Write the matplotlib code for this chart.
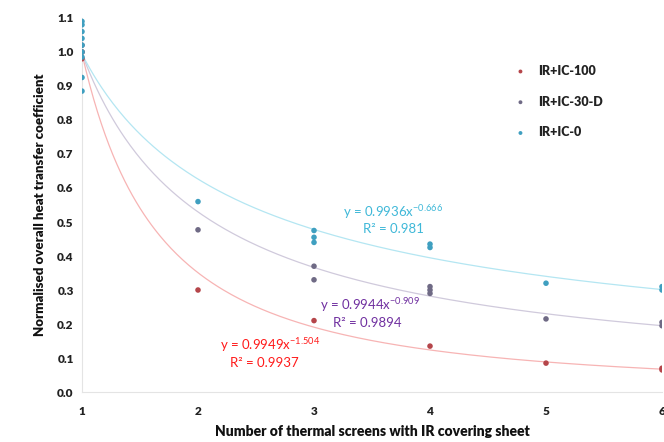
import numpy as np
import matplotlib
matplotlib.use("Agg")
import matplotlib.pyplot as plt

plt.rcParams['font.family'] = ['Lato', 'DejaVu Sans']
plt.rcParams['mathtext.fontset'] = 'custom'
plt.rcParams['mathtext.rm'] = 'Lato'
plt.rcParams['mathtext.default'] = 'regular'

# Data
red_x = [1, 1, 2, 3, 4, 5, 6, 6]
red_y = [1.00, 0.98, 0.30, 0.21, 0.135, 0.085, 0.07, 0.065]
pur_x = [1, 1, 2, 3, 3, 4, 4, 4, 5, 6, 6]
pur_y = [1.00, 1.02, 0.477, 0.37, 0.33, 0.31, 0.30, 0.29, 0.215, 0.205, 0.195]
blu_x = [1, 1, 1, 1, 1, 1, 1, 1, 1, 2, 3, 3, 3, 4, 4, 5, 6, 6]
blu_y = [0.885, 0.925, 0.985, 1.00, 1.02, 1.04, 1.06, 1.08, 1.09, 0.56, 0.475, 0.455, 0.44, 0.435, 0.425, 0.32, 0.31, 0.30]

# power-law fits y = a * x^b (as printed on chart)
red_fit = (0.9949, -1.504, 0.9937)
pur_fit = (0.9944, -0.909, 0.9894)
blu_fit = (0.9936, -0.666, 0.981)

labels = ['IR+IC-100', 'IR+IC-30-D', 'IR+IC-0']
pt_colors = ['#b5454a', '#6f6a85', '#3f9fc0']
line_colors = ['#f7b4b4', '#d0cadc', '#b4e6f2']
eq_colors = ['#ff1a1a', '#7030a0', '#3fb8d8']

fig = plt.figure(figsize=(6.64, 4.42), dpi=100)
ax = fig.add_axes([0.1235, 0.1131, 0.8735, 0.8462])

xs = np.linspace(1, 6, 300)
for (a, b, r2), lc in zip([red_fit, pur_fit, blu_fit], line_colors):
    ax.plot(xs, a * xs ** b, color=lc, lw=0.9, zorder=1)

for xv, yv, c, lab in zip([red_x, pur_x, blu_x], [red_y, pur_y, blu_y], pt_colors, labels):
    ax.scatter(xv, yv, s=16, color=c, label=lab, zorder=3, edgecolors='none')

ax.set_xlim(1, 6)
ax.set_ylim(0, 1.1)
ax.set_xticks([1, 2, 3, 4, 5, 6])
ax.set_yticks(np.round(np.arange(0, 1.11, 0.1), 1))
ax.set_yticklabels([f"{v:.1f}" for v in np.arange(0, 1.11, 0.1)])
for t in ax.get_xticklabels() + ax.get_yticklabels():
    t.set_fontweight('heavy')
    t.set_fontsize(8.5)
    t.set_color('#222222')
ax.tick_params(axis='x', length=0, pad=10)
ax.tick_params(axis='y', length=0, pad=6)
for s in ['top', 'right']:
    ax.spines[s].set_visible(False)
ax.spines['left'].set_color('#e4e4e4')
ax.spines['bottom'].set_color('#e4e4e4')

ax.set_xlabel('Number of thermal screens with IR covering sheet', fontsize=10,
              fontweight='heavy', color='#111111', labelpad=6)
ax.set_ylabel('Normalised overall heat transfer coefficient', fontsize=9.5,
              fontweight='heavy', color='#111111', labelpad=8)

# equations
eqkw = dict(fontsize=9.5, va='center', ha='left')
ax.text(3.25, 0.53, f"y = {blu_fit[0]}x$^{{{blu_fit[1]}}}$", color=eq_colors[2], **eqkw)
ax.text(3.42, 0.478, f"R² = {blu_fit[2]}", color=eq_colors[2], **eqkw)
ax.text(3.05, 0.256, f"y = {pur_fit[0]}x$^{{{pur_fit[1]}}}$", color=eq_colors[1], **eqkw)
ax.text(3.16, 0.203, f"R² = {pur_fit[2]}", color=eq_colors[1], **eqkw)
ax.text(2.19, 0.138, f"y = {red_fit[0]}x$^{{{red_fit[1]}}}$", color=eq_colors[0], **eqkw)
ax.text(2.28, 0.085, f"R² = {red_fit[2]}", color=eq_colors[0], **eqkw)

leg = ax.legend(loc='upper left', bbox_to_anchor=(0.715, 0.905), frameon=False,
                fontsize=9, markerscale=0.7, handletextpad=0.4, labelspacing=1.5)
for t in leg.get_texts():
    t.set_fontweight('heavy')
    t.set_color('#222222')

fig.savefig('out.png', dpi=100)
